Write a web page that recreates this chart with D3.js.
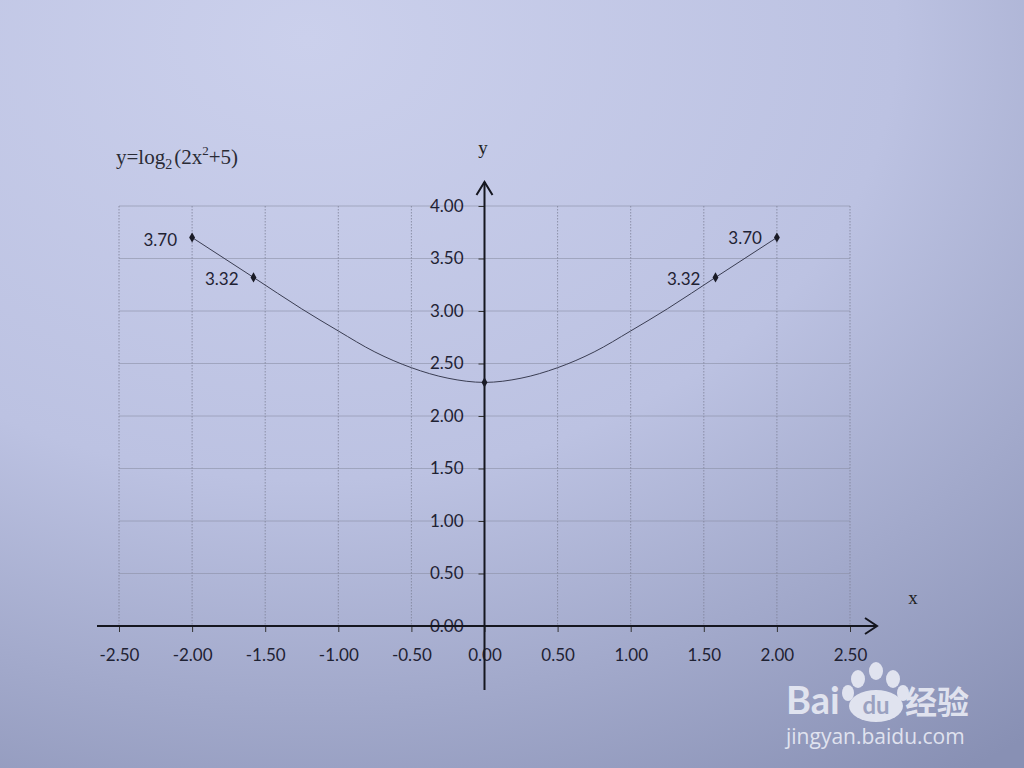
<!DOCTYPE html>
<html><head><meta charset="utf-8">
<script src="https://cdn.jsdelivr.net/npm/d3@7"></script>
<style>html,body{margin:0;padding:0;overflow:hidden;}</style>
</head><body>
<svg id="c" width="1024" height="768"></svg>
<script>
// data
const xTicks = [-2.5,-2.0,-1.5,-1.0,-0.5,0,0.5,1.0,1.5,2.0,2.5];
const yTicks = [0,0.5,1.0,1.5,2.0,2.5,3.0,3.5,4.0];
const curveX = [-2.0,-1.58,-1.25,-1.0,-0.75,-0.5,-0.25,0,0.25,0.5,0.75,1.0,1.25,1.58,2.0];
const curveY = [3.70,3.32,3.02,2.81,2.61,2.46,2.36,2.32,2.36,2.46,2.61,2.81,3.02,3.32,3.70];
const markX = [-2.0,-1.58,0,1.58,2.0];
const markY = [3.70,3.32,2.32,3.32,3.70];
const labelText = ["3.70","3.32","","3.32","3.70"];

const svg = d3.select("#c");
const defs = svg.append("defs");
const g1 = defs.append("radialGradient").attr("id","bg").attr("cx","30%").attr("cy","5%").attr("r","115%");
g1.append("stop").attr("offset","0%").attr("stop-color","#cbd0ec");
g1.append("stop").attr("offset","50%").attr("stop-color","#bcc2e2");
g1.append("stop").attr("offset","100%").attr("stop-color","#8890b4");
svg.append("rect").attr("width",1024).attr("height",768).attr("fill","url(#bg)");

const x = d3.scaleLinear().domain([-2.5,2.5]).range([119,850]);
const y = d3.scaleLinear().domain([0,4]).range([626,206]);
const fmt = d => d3.format(".2f")(d).replace("\u2212","-");

// grid
const grid = svg.append("g");
grid.selectAll(".h").data(yTicks.filter(d=>d>0)).join("line")
  .attr("x1",x(-2.5)).attr("x2",x(2.5)).attr("y1",d=>y(d)).attr("y2",d=>y(d))
  .attr("stroke","#8b90a6").attr("stroke-width",0.8).attr("opacity",0.75);
grid.selectAll(".v").data(xTicks.filter(d=>d!==0)).join("line")
  .attr("x1",d=>x(d)).attr("x2",d=>x(d)).attr("y1",y(4)).attr("y2",y(0))
  .attr("stroke","#7d8298").attr("stroke-width",0.8).attr("stroke-dasharray","1.5,1.5");

// x axis
const axX = svg.append("g").attr("transform",`translate(0,${y(0)})`)
  .call(d3.axisBottom(x).tickValues(xTicks).tickFormat(fmt).tickSize(6).tickSizeOuter(0));
axX.select(".domain").remove();
axX.selectAll(".tick line").attr("stroke","#333").attr("stroke-width",1);
axX.selectAll(".tick text").attr("dy","1.55em").attr("font-family","Lato, 'Open Sans', sans-serif")
  .attr("font-size",17).attr("fill","#1f2233");

// y axis
const axY = svg.append("g").attr("transform",`translate(${x(0)},0)`)
  .call(d3.axisLeft(y).tickValues(yTicks).tickFormat(fmt).tickSize(6).tickSizeOuter(0));
axY.select(".domain").remove();
axY.selectAll(".tick line").attr("stroke","#333").attr("stroke-width",1);
axY.selectAll(".tick text").attr("x",-21).attr("font-family","Lato, 'Open Sans', sans-serif")
  .attr("font-size",17).attr("fill","#1f2233");

// axis lines with arrows
svg.append("line").attr("x1",97).attr("x2",877).attr("y1",y(0)).attr("y2",y(0))
  .attr("stroke","#15161f").attr("stroke-width",2);
svg.append("path").attr("d",`M865,${y(0)-8} L877,${y(0)} L865,${y(0)+8}`)
  .attr("fill","none").attr("stroke","#15161f").attr("stroke-width",2);
svg.append("line").attr("x1",x(0)).attr("x2",x(0)).attr("y1",690).attr("y2",182)
  .attr("stroke","#15161f").attr("stroke-width",2);
svg.append("path").attr("d",`M${x(0)-8},195 L${x(0)},182 L${x(0)+8},195`)
  .attr("fill","none").attr("stroke","#15161f").attr("stroke-width",2);

svg.append("text").attr("x",483).attr("y",154).attr("text-anchor","middle")
  .attr("font-family","'Liberation Serif', serif").attr("font-size",19).attr("fill","#222").text("y");
svg.append("text").attr("x",913).attr("y",604).attr("text-anchor","middle")
  .attr("font-family","'Liberation Serif', serif").attr("font-size",19).attr("fill","#222").text("x");

// curve
const pts = curveX.map((d,i)=>[d,curveY[i]]);
svg.append("path").datum(pts)
  .attr("d",d3.line().x(d=>x(d[0])).y(d=>y(d[1])).curve(d3.curveMonotoneX))
  .attr("fill","none").attr("stroke","#3a3d52").attr("stroke-width",1);

// markers
const marks = markX.map((d,i)=>({x:d,y:markY[i],t:labelText[i]}));
svg.selectAll(".m").data(marks).join("path")
  .attr("d",d3.symbol(d3.symbolDiamond,30))
  .attr("transform",d=>`translate(${x(d.x)},${y(d.y)})`)
  .attr("fill","#1a1b26");
const offs = [[-15,8],[-15,8],[0,0],[-15,8],[-15,6]];
svg.selectAll(".lbl").data(marks).join("text")
  .attr("x",(d,i)=>x(d.x)+offs[i][0]).attr("y",(d,i)=>y(d.y)+offs[i][1])
  .attr("text-anchor","end").attr("font-family","Lato, 'Open Sans', sans-serif")
  .attr("font-size",17).attr("fill","#1f2233").text(d=>d.t);

// title
const tt = svg.append("text").attr("x",116).attr("y",164)
  .attr("font-family","'Liberation Serif', 'DejaVu Serif', serif").attr("font-size",21).attr("fill","#2a2b35");
tt.append("tspan").text("y=log");
tt.append("tspan").attr("dy",5).attr("font-size",14).text("2");
tt.append("tspan").attr("dy",-5).attr("dx",2).text("(2x");
tt.append("tspan").attr("dy",-9).attr("font-size",13).text("2");
tt.append("tspan").attr("dy",9).text("+5)");

// watermark
const wm = svg.append("g").attr("fill","#eef0f8").attr("opacity",0.85);
wm.append("text").attr("x",786).attr("y",714).attr("font-family","Lato, sans-serif").attr("font-weight","bold")
  .attr("font-size",38).text("Bai");
wm.append("ellipse").attr("cx",876).attr("cy",706).attr("rx",27).attr("ry",16);
[[858,679,7],[876,671,7],[893,679,7],[903,693,6],[848,693,6]].forEach(c=>
  wm.append("ellipse").attr("cx",c[0]).attr("cy",c[1]).attr("rx",c[2]).attr("ry",c[2]+2));
svg.append("text").attr("x",876).attr("y",714).attr("text-anchor","middle").attr("font-family","Lato, sans-serif")
  .attr("font-weight","bold").attr("font-size",24).attr("fill","#9aa1c0").text("du");
wm.append("text").attr("x",905).attr("y",714).attr("font-family","'Noto Sans CJK SC', sans-serif").attr("font-weight","bold")
  .attr("font-size",32).text("经验");
wm.append("text").attr("x",786).attr("y",744).attr("font-family","'Open Sans', sans-serif")
  .attr("font-size",21).text("jingyan.baidu.com");
</script>
</body></html>
